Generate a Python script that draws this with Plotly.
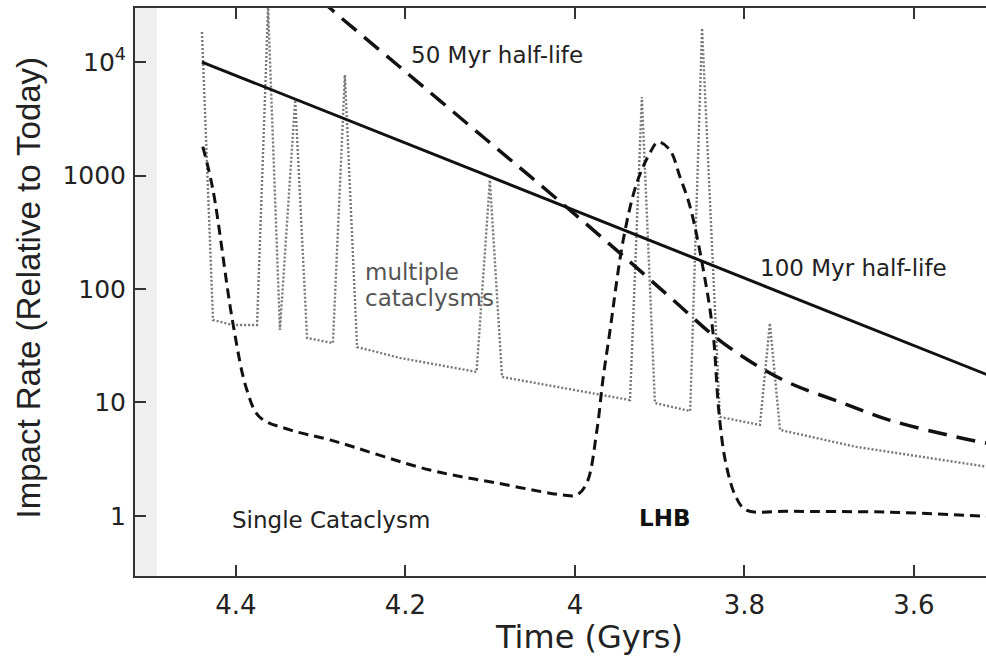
import plotly.graph_objects as go

# ---- data ----
hl100_x = [4.440, 3.500]
hl100_y = [10000, 16.0]

hl50_x = [4.300, 4.289, 4.2065, 4.104, 4.0295, 3.955, 3.888, 3.825, 3.7546, 3.684, 3.629, 3.550, 3.515, 3.50]
hl50_y = [36000, 29900, 9040, 2055, 701, 234, 85, 33.4, 15.8, 9.9, 7.0, 4.97, 4.40, 4.25]

single_x = [4.439, 4.427, 4.4035, 4.387, 4.372, 4.336, 4.289, 4.171, 4.092, 4.014, 3.998, 3.986,
            3.974, 3.967, 3.959, 3.943, 3.927, 3.9115, 3.902, 3.888, 3.876, 3.864, 3.847, 3.837,
            3.830, 3.822, 3.810, 3.798, 3.7475, 3.629, 3.50]
single_y = [1800, 745, 50, 12.9, 7.45, 5.73, 4.68, 2.54, 1.95, 1.53, 1.53, 1.95,
            5.73, 15.8, 40.9, 270, 859, 1578, 1973, 1679, 970, 527, 128, 40.9,
            8.07, 2.93, 1.47, 1.13, 1.10, 1.08, 0.98]

multi_x = [4.440, 4.427, 4.4035, 4.375, 4.362, 4.348, 4.330, 4.316, 4.2855, 4.2714, 4.257,
           4.2065, 4.116, 4.1003, 4.086, 3.935, 3.921, 3.9056, 3.864, 3.850, 3.829, 3.7817,
           3.770, 3.758, 3.668, 3.515, 3.50]
multi_y = [18400, 53.3, 48.2, 48.2, 30000, 43.6, 4630, 37, 33.4, 7680, 30.8,
           24.7, 18.6, 912, 16.8, 10.5, 4920, 9.9, 8.4, 19900, 7.45, 6.34,
           50, 5.73, 4.06, 2.71, 2.62]

ytick_vals = [1, 10, 100, 1000, 10000]
ytick_text = ["1", "10", "100", "1000", "10<sup>4</sup>"]
xtick_vals = [4.4, 4.2, 4.0, 3.8, 3.6]
xtick_text = ["4.4", "4.2", "4", "3.8", "3.6"]

WIDE = "DejaVu Sans, Verdana, sans-serif"
NARROW = "Liberation Sans, Arial, Helvetica, sans-serif"

fig = go.Figure()

fig.add_trace(go.Scatter(x=multi_x, y=multi_y, mode="lines",
                         line=dict(color="#777777", width=2.4, dash="2px,2px"),
                         hoverinfo="skip"))
fig.add_trace(go.Scatter(x=hl100_x, y=hl100_y, mode="lines",
                         line=dict(color="#111111", width=3), hoverinfo="skip"))
fig.add_trace(go.Scatter(x=hl50_x, y=hl50_y, mode="lines", line_shape="spline",
                         line=dict(color="#111111", width=3.5, dash="19px,10px"),
                         hoverinfo="skip"))
fig.add_trace(go.Scatter(x=single_x, y=single_y, mode="lines", line_shape="spline",
                         line=dict(color="#111111", width=3, dash="10px,6px"),
                         hoverinfo="skip"))

fig.add_shape(type="rect", xref="x", yref="paper", x0=4.52, x1=4.493, y0=0, y1=1,
              fillcolor="#efefef", line_width=0, layer="below")

# annotation positions on the log y axis are given in log10 units
ann = dict(showarrow=False, xanchor="center", yanchor="middle",
           font=dict(family=WIDE, size=23, color="#222222"))
fig.add_annotation(x=4.092, y=4.06, text="50 Myr half-life", **ann)
fig.add_annotation(x=3.671, y=2.185, text="100 Myr half-life", **ann)
fig.add_annotation(x=4.288, y=-0.035, text="Single Cataclysm", **ann)
fig.add_annotation(x=3.894, y=-0.018, text="<b>LHB</b>", showarrow=False,
                   xanchor="center", yanchor="middle",
                   font=dict(family=WIDE, size=23, color="#111111"))
gray = dict(showarrow=False, xanchor="left", yanchor="middle",
            font=dict(family=WIDE, size=23, color="#555555"))
fig.add_annotation(x=4.250, y=2.150, text="multiple", **gray)
fig.add_annotation(x=4.250, y=1.921, text="cataclysms", **gray)

# axis titles
fig.add_annotation(xref="paper", yref="paper", x=0.5335, y=-0.1074, text="Time (Gyrs)",
                   showarrow=False, xanchor="center", yanchor="middle",
                   font=dict(family=WIDE, size=32, color="#222222"))
fig.add_annotation(xref="paper", yref="paper", x=-0.1257, y=0.508,
                   text="Impact Rate (Relative to Today)", textangle=-90,
                   showarrow=False, xanchor="center", yanchor="middle",
                   font=dict(family=NARROW, size=33, color="#222222"))

fig.update_layout(
    width=986, height=661,
    margin=dict(l=135, r=0, t=8, b=85, autoexpand=False),
    paper_bgcolor="white", plot_bgcolor="white",
    showlegend=False,
    font=dict(family=WIDE, color="#222222"),
)
fig.update_xaxes(range=[4.519, 3.515], tickvals=xtick_vals, ticktext=xtick_text,
                 ticks="inside", ticklen=11, tickwidth=2, tickcolor="#333333",
                 showline=True, linecolor="#333333", linewidth=2, mirror="ticks",
                 showgrid=False, zeroline=False, ticklabelstandoff=5, automargin=False,
                 tickfont=dict(family=WIDE, size=26, color="#222222"))
fig.update_yaxes(type="log", range=[-0.529, 4.476], tickvals=ytick_vals, ticktext=ytick_text,
                 ticks="inside", ticklen=11, tickwidth=2, tickcolor="#333333",
                 showline=True, linecolor="#333333", linewidth=2,
                 showgrid=False, zeroline=False, ticklabelstandoff=2, automargin=False,
                 tickfont=dict(family=WIDE, size=25, color="#222222"))

fig.write_html("out.html", config={"displayModeBar": False},
               post_script="document.body.style.margin='0';document.body.style.overflow='hidden';")
